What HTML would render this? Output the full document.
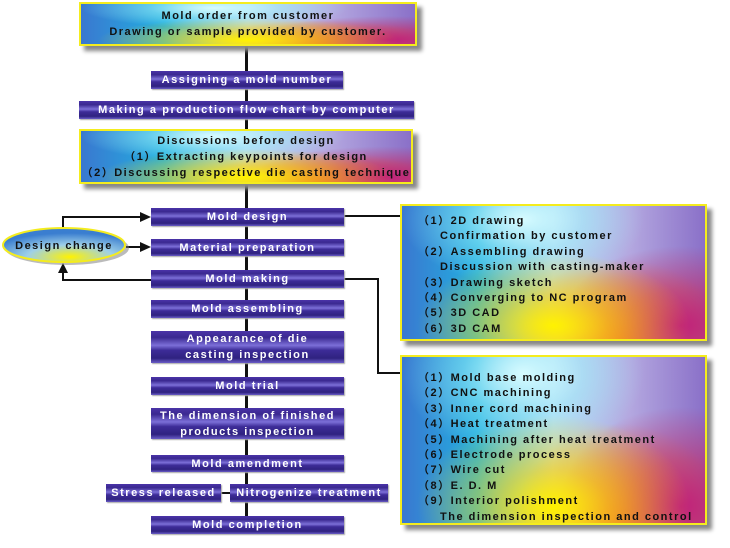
<!DOCTYPE html>
<html><head><style>
body{margin:0;width:730px;height:548px;background:#fff;position:relative;overflow:hidden;font-family:"Liberation Sans","Noto Sans CJK SC",sans-serif;font-weight:bold}
.b{position:absolute;color:#fff;font-size:11px;letter-spacing:1.55px;text-align:center;display:flex;align-items:center;justify-content:center;line-height:16px;white-space:nowrap;
background:linear-gradient(180deg,#4b34a8 0%,#3a2890 20%,#7c6fd8 45%,#3d2c98 60%,#2f2280 85%,#6a5cc8 100%);box-shadow:1px 1px 1px #aaa}
.g{position:absolute;border:2px solid #f4ec1e;box-sizing:border-box;box-shadow:5px 5px 4px #888;color:#111;font-size:11px;letter-spacing:1.5px;white-space:nowrap;
background:
radial-gradient(ellipse 45% 55% at 50% 90%,#fff200 0%,rgba(255,220,0,.6) 40%,rgba(255,200,0,0) 100%),
radial-gradient(ellipse 40% 60% at 92% 90%,#c0207a 0%,rgba(200,40,100,.6) 45%,rgba(200,40,100,0) 100%),
radial-gradient(ellipse 40% 50% at 40% 10%,#d6fbff 0%,rgba(160,240,250,.5) 50%,rgba(160,240,250,0) 100%),
radial-gradient(ellipse 35% 60% at 72% 100%,#ff8a20 0%,rgba(255,120,40,0) 100%),
linear-gradient(90deg,#3a78d0 0%,#22b0e0 25%,#b8d8f4 50%,#b4a8e0 75%,#8a70c8 100%)}
.c{text-align:center;display:flex;flex-direction:column;justify-content:center;line-height:16px}
.l{position:absolute;background:#111}
.r{padding:8px 0 0 16px;line-height:15.4px}
.r div.i{padding-left:22px}
</style></head><body>
<div class="l" style="left:245px;top:44px;width:3px;height:474px"></div>
<div class="g c" style="left:79px;top:2px;width:338px;height:44px">Mold order from customer<br>Drawing or sample provided by customer.</div>
<div class="b" style="left:151px;top:71px;width:192px;height:18px">Assigning a mold number</div>
<div class="b" style="left:79px;top:101px;width:335px;height:18px">Making a production flow chart by computer</div>
<div class="g c" style="left:79px;top:129px;width:334px;height:55px">Discussions before design<br>（1）Extracting keypoints for design<br>（2）Discussing respective die casting technique</div>
<div class="l" style="left:344px;top:215px;width:57px;height:2px"></div>
<div class="l" style="left:344px;top:278px;width:35px;height:2px"></div>
<div class="l" style="left:377px;top:278px;width:2px;height:96px"></div>
<div class="l" style="left:377px;top:372px;width:24px;height:2px"></div>
<div class="l" style="left:62px;top:216px;width:2px;height:13px"></div>
<div class="l" style="left:62px;top:216px;width:80px;height:2px"></div>
<div class="l" style="left:126px;top:246px;width:16px;height:2px"></div>
<div class="l" style="left:62px;top:279px;width:90px;height:2px"></div>
<div class="l" style="left:62px;top:270px;width:2px;height:10px"></div>
<svg style="position:absolute;left:0;top:0" width="730" height="548">
<polygon points="151,217 140,212 140,222" fill="#111"/>
<polygon points="151,247 140,242 140,252" fill="#111"/>
<polygon points="63,263 58,273 68,273" fill="#111"/>
<defs><radialGradient id="e" cx="55%" cy="85%" r="70%"><stop offset="0" stop-color="#fff200"/><stop offset=".5" stop-color="#9ed0e8"/><stop offset="1" stop-color="#3a7ed0"/></radialGradient></defs>
<ellipse cx="67" cy="248" rx="62" ry="17" fill="#777" opacity=".5"/>
<ellipse cx="64" cy="245" rx="61" ry="17" fill="url(#e)" stroke="#f4ec1e" stroke-width="2"/>
<text x="64" y="249" text-anchor="middle" font-family="Liberation Sans" font-weight="bold" font-size="11" letter-spacing="1.5" fill="#111">Design change</text>
</svg>
<div class="b" style="left:151px;top:208px;width:193px;height:18px">Mold design</div>
<div class="b" style="left:151px;top:239px;width:193px;height:17px">Material preparation</div>
<div class="b" style="left:151px;top:270px;width:193px;height:18px">Mold making</div>
<div class="b" style="left:151px;top:300px;width:193px;height:18px">Mold assembling</div>
<div class="b" style="left:151px;top:331px;width:193px;height:32px">Appearance of die<br>casting inspection</div>
<div class="b" style="left:151px;top:377px;width:193px;height:18px">Mold trial</div>
<div class="b" style="left:151px;top:408px;width:193px;height:31px">The dimension of finished<br>products inspection</div>
<div class="b" style="left:151px;top:455px;width:193px;height:17px">Mold amendment</div>
<div class="l" style="left:221px;top:492px;width:10px;height:2px"></div>
<div class="b" style="left:106px;top:484px;width:115px;height:18px">Stress released</div>
<div class="b" style="left:230px;top:484px;width:158px;height:18px">Nitrogenize treatment</div>
<div class="b" style="left:151px;top:516px;width:193px;height:18px">Mold completion</div>
<div class="g r" style="left:400px;top:204px;width:307px;height:137px">
<div>（1）2D drawing</div><div class="i">Confirmation by customer</div><div>（2）Assembling drawing</div><div class="i">Discussion with casting-maker</div><div>（3）Drawing sketch</div><div>（4）Converging to NC program</div><div>（5）3D CAD</div><div>（6）3D CAM</div></div>
<div class="g r" style="left:400px;top:355px;width:307px;height:170px;padding-top:14px">
<div>（1）Mold base molding</div><div>（2）CNC machining</div><div>（3）Inner cord machining</div><div>（4）Heat treatment</div><div>（5）Machining after heat treatment</div><div>（6）Electrode process</div><div>（7）Wire cut</div><div>（8）E. D. M</div><div>（9）Interior polishment</div><div class="i">The dimension inspection and control</div></div>
</body></html>
